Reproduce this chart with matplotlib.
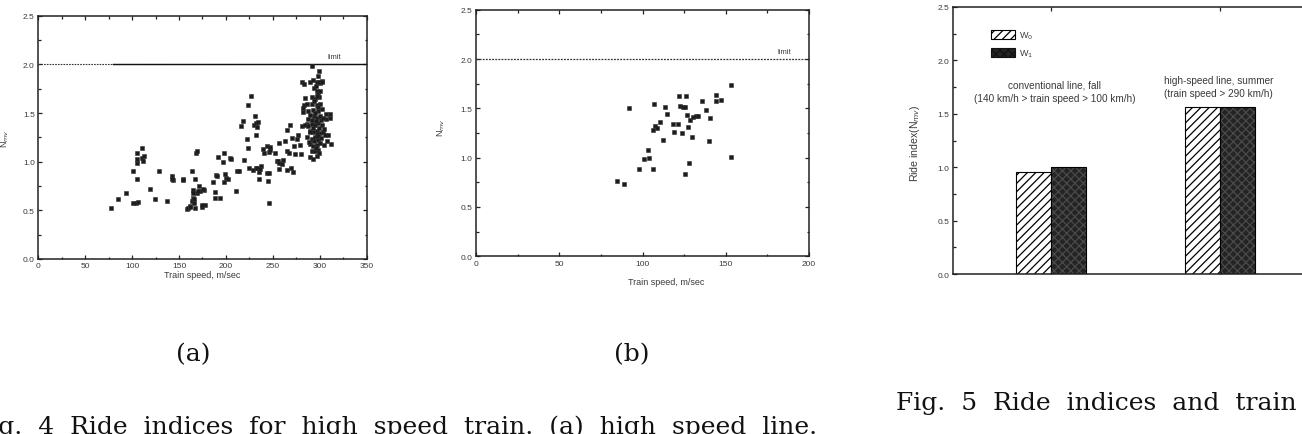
import matplotlib
matplotlib.use("Agg")
import matplotlib.pyplot as plt
from matplotlib.patches import Patch
from matplotlib.ticker import MultipleLocator

plt.rcParams["font.family"] = ["Liberation Sans", "DejaVu Sans"]
plt.rcParams["hatch.linewidth"] = 0.9

# ---- (a) high speed line: train speed vs ride index ----
speed_a = [
    77.5, 85, 94, 100.6, 101, 104, 106, 105, 105, 105.5, 105.5, 110, 111, 113, 112,
    119, 124, 129, 137.5, 142, 143.9, 143, 154, 154.6, 158, 160, 162, 163.5, 164,
    164.5, 165, 166, 167, 168, 169, 167, 169, 171, 172, 174.5, 176.5, 177.5, 161.7,
    175, 176, 170.6, 164.6, 166.4, 186.5, 188, 188, 189, 190, 192, 193.7, 196.5,
    198, 198, 199, 200, 202.5, 204, 205.5, 210.4, 211.5, 214, 216, 218, 219.6, 222,
    223, 224, 225, 227, 229, 230, 231, 231.5, 232, 234.5, 233.5, 232, 233.5, 235,
    235, 237, 236.4, 240, 241, 243.5, 243.5, 245, 245.5, 245.5, 246, 247, 247,
    252.5, 254, 255.9, 256, 257, 257, 259.5, 261, 263, 265, 265, 265.5, 267, 268,
    269, 270.5, 271, 272.5, 273.5, 275.5, 277, 279, 279.5, 281, 281, 283, 282.5,
    283, 284, 286, 287,
    # dense cluster near 300 km/h
    291.5, 299.6, 297.8, 289.7, 293, 296.8, 300.3, 302, 294.3, 296.8, 298.5, 291.5,
    295, 299.6, 286, 291.5, 296.8, 300.3, 282.5, 287.8, 293.2, 298.5, 302, 311,
    306.6, 284.3, 287.8, 291.5, 295, 298.5, 302, 289.7, 293.2, 296.8, 300.3, 303.8,
    286, 291.5, 295, 298.5, 309.2, 289.7, 293.2, 296.8, 300.3, 307.4, 291.5, 295,
    298.5, 289.7, 296.8, 293, 311, 312, 307, 305.5, 299.5, 302, 294, 297, 300, 292,
    295.5, 299, 301, 293, 297, 294, 298, 301, 296, 299, 295, 298, 293.5, 297, 300,
    295.5, 290, 303, 304, 305, 288, 290,
]
nmv_a = [
    0.52, 0.62, 0.68, 0.90, 0.575, 0.575, 0.59, 0.82, 1.09, 1.03, 0.99, 1.14, 1.04,
    1.06, 1.01, 0.72, 0.62, 0.90, 0.60, 0.85, 0.815, 0.82, 0.82, 0.815, 0.51, 0.52,
    0.54, 0.90, 0.60, 0.71, 0.68, 0.575, 0.82, 1.09, 1.11, 0.52, 0.68, 0.75, 0.70,
    0.53, 0.71, 0.55, 0.53, 0.55, 0.72, 0.70, 0.63, 0.62, 0.79, 0.69, 0.63, 0.86,
    0.85, 1.05, 0.63, 1.00, 1.09, 0.79, 0.87, 0.83, 0.82, 1.04, 1.03, 0.70, 0.90,
    0.90, 1.37, 1.42, 1.02, 1.23, 1.14, 1.58, 0.94, 1.67, 0.91, 1.38, 1.47, 1.27,
    1.40, 1.41, 1.36, 0.94, 0.93, 0.82, 0.89, 0.96, 0.925, 1.13, 1.09, 1.16, 0.88,
    0.80, 0.575, 0.88, 1.10, 1.12, 1.15, 1.09, 1.01, 1.01, 1.19, 0.99, 0.925, 0.98,
    1.02, 1.21, 1.11, 0.91, 1.33, 1.09, 1.38, 0.93, 1.24, 0.89, 1.16, 1.08, 1.23,
    1.27, 1.17, 1.08, 1.37, 1.82, 1.80, 1.51, 1.58, 1.65, 1.39, 1.44,
    # dense cluster near 300 km/h
    1.98, 1.93, 1.88, 1.82, 1.84, 1.82, 1.81, 1.83, 1.76, 1.73, 1.70, 1.66, 1.64,
    1.66, 1.59, 1.59, 1.58, 1.59, 1.55, 1.52, 1.53, 1.52, 1.54, 1.49, 1.44, 1.38,
    1.37, 1.39, 1.38, 1.40, 1.38, 1.32, 1.30, 1.32, 1.29, 1.31, 1.25, 1.23, 1.25,
    1.22, 1.27, 1.18, 1.16, 1.17, 1.19, 1.21, 1.11, 1.11, 1.12, 1.045, 1.06, 1.03,
    1.45, 1.18, 1.49, 1.27, 1.82, 1.82, 1.47, 1.45, 1.47, 1.43, 1.42, 1.35, 1.43,
    1.35, 1.28, 1.21, 1.26, 1.24, 1.14, 1.09, 1.50, 1.56, 1.62, 1.68, 1.73, 1.78,
    1.30, 1.45, 1.34, 1.17, 1.20, 1.48,
]

# ---- (b) conventional line ----
speed_b = [
    84.4, 88.8, 91.8, 97.6, 100.8, 104, 103.6, 106.8, 106.4, 107.6, 108.8, 110.4,
    106.4, 112.4, 113.6, 114.8, 118.4, 118.8, 121.2, 121.8, 122.8, 124.4, 125.6,
    123.6, 125.6, 126.4, 127, 127.6, 128.2, 128.4, 129.6, 130.4, 132, 133.2, 136,
    138.4, 140, 140.8, 144, 144, 147, 153, 153,
]
nmv_b = [
    0.76, 0.73, 1.50, 0.88, 0.99, 1.00, 1.08, 1.54, 1.28, 1.32, 1.30, 1.36, 0.89,
    1.18, 1.51, 1.44, 1.34, 1.26, 1.34, 1.63, 1.52, 1.51, 1.51, 1.25, 0.83, 1.63,
    1.43, 1.31, 0.95, 1.38, 1.21, 1.41, 1.42, 1.42, 1.57, 1.48, 1.17, 1.40, 1.64,
    1.57, 1.58, 1.74, 1.01,
]

# ---- Fig. 5 ride index bars ----
groups = ["conventional line, fall\n(140 km/h > train speed > 100 km/h)",
          "high-speed line, summer\n(train speed > 290 km/h)"]
w0_vals = [0.955, 1.56]
w1_vals = [1.005, 1.56]
limit = 2.0

W, H = 1302, 435
fig = plt.figure(figsize=(W / 100, H / 100), dpi=100)


def px_axes(x0, x1, ytop, ybot):
    return fig.add_axes([x0 / W, 1 - ybot / H, (x1 - x0) / W, (ybot - ytop) / H])


tick_kw = dict(direction="in", top=True, right=True, labelsize=6,
               labelcolor="#3a3a3a", width=0.9, color="#222222")
spine_c = "#222222"
grey_txt = "#3a3a3a"


def style(ax, xmaj, xmin):
    for s in ax.spines.values():
        s.set_linewidth(1.1)
        s.set_color(spine_c)
    ax.xaxis.set_major_locator(MultipleLocator(xmaj))
    ax.xaxis.set_minor_locator(MultipleLocator(xmin))
    ax.yaxis.set_major_locator(MultipleLocator(0.5))
    ax.yaxis.set_minor_locator(MultipleLocator(0.25))
    ax.tick_params(which="major", length=3, pad=2.5, **tick_kw)
    ax.tick_params(which="minor", length=1.8, **tick_kw)
    ax.yaxis.set_major_formatter(plt.FormatStrFormatter("%.1f"))


# panel (a)
axA = px_axes(38.3, 366.7, 16.7, 260)
axA.scatter(speed_a, nmv_a, s=9, marker="s", c="#1c1c1c", edgecolors="#333333",
            linewidths=0.4, zorder=3)
axA.axhline(limit, color="#333333", lw=0.8, ls=(0, (1.5, 1)))
axA.plot([80, 350], [limit, limit], color="#111111", lw=1.0)
axA.text(316, 2.08, "limit", fontsize=5.5, color=grey_txt, ha="center", va="center")
axA.set_xlim(0, 350)
axA.set_ylim(0, 2.5)
style(axA, 50, 25)
axA.set_xlabel("Train speed, m/sec", fontsize=6.5, color=grey_txt)
axA.xaxis.set_label_coords(0.5, -0.045)
axA.set_ylabel(r"N$_{mv}$", fontsize=6.5, color=grey_txt)
axA.yaxis.set_label_coords(-0.084, 0.5)

# panel (b)
axB = px_axes(476, 809, 10.7, 257.3)
axB.scatter(speed_b, nmv_b, s=9, marker="s", c="#1c1c1c", edgecolors="#333333",
            linewidths=0.4, zorder=3)
axB.axhline(limit, color="#333333", lw=0.9, ls=(0, (1.5, 1)))
axB.text(185, 2.08, "limit", fontsize=5.5, color=grey_txt, ha="center", va="center")
axB.set_xlim(0, 200)
axB.set_ylim(0, 2.5)
style(axB, 50, 25)
axB.set_xlabel("Train speed, m/sec", fontsize=6.5, color=grey_txt)
axB.xaxis.set_label_coords(0.57, -0.085)
axB.set_ylabel(r"N$_{mv}$", fontsize=6.5, color=grey_txt)
axB.yaxis.set_label_coords(-0.088, 0.524)

# Fig. 5 bar chart
axC = px_axes(952.7, 1318.3, 8, 275)
pos = [0, 1]
bw = 0.205
axC.bar([p - bw / 2 for p in pos], w0_vals, bw, color="white", edgecolor="black",
        hatch="////", lw=0.8)
axC.bar([p + bw / 2 for p in pos], w1_vals, bw, color="#242424", edgecolor="#4a4a4a",
        hatch="xxxx", lw=0)
axC.bar([p + bw / 2 for p in pos], w1_vals, bw, fill=False, edgecolor="black", lw=0.8)
axC.text(0.02, 1.71, groups[0], fontsize=7.2, color=grey_txt, ha="center",
         va="center", linespacing=1.4)
axC.text(0.99, 1.755, groups[1], fontsize=7.2, color=grey_txt, ha="center",
         va="center", linespacing=1.4)
axC.set_xlim(-0.582, 1.582)
axC.set_ylim(0, 2.5)
for s in axC.spines.values():
    s.set_linewidth(1.1)
    s.set_color(spine_c)
axC.yaxis.set_major_locator(MultipleLocator(0.5))
axC.yaxis.set_minor_locator(MultipleLocator(0.25))
axC.yaxis.set_major_formatter(plt.FormatStrFormatter("%.1f"))
axC.set_xticks(pos)
axC.set_xticklabels([])
axC.tick_params(which="major", length=3, pad=2.5, **tick_kw)
axC.tick_params(which="minor", length=1.8, **tick_kw)
axC.tick_params(axis="x", which="minor", bottom=False, top=False)
axC.set_ylabel(r"Ride index(N$_{mv}$)", fontsize=7.6, color=grey_txt)
axC.yaxis.set_label_coords(-0.084, 0.494)
handles = [
    Patch(facecolor="white", edgecolor="black", hatch="////", lw=0.8, label=r"W$_0$"),
    Patch(facecolor="#242424", edgecolor="#111111", hatch="xxxx", lw=0.8, label=r"W$_1$"),
]
axC.legend(handles=handles, loc="upper left", bbox_to_anchor=(0.105, 0.915),
           frameon=False, fontsize=6.5, handlelength=2.6, handleheight=1.2,
           labelspacing=0.7, handletextpad=0.5, borderpad=0, borderaxespad=0,
           labelcolor=grey_txt)

# captions: serif, loosely set as on the printed page (two spaces between words)
cap_kw = dict(family=["DejaVu Serif"], fontsize=18, color="#111111")
fig.text(193 / W, 1 - 355 / H, "(a)", ha="center", va="center", **cap_kw)
fig.text(632 / W, 1 - 355 / H, "(b)", ha="center", va="center", **cap_kw)
fig.text(-27 / W, 1 - 415 / H,
         "Fig.  4  Ride  indices  for  high  speed  train.  (a)  high  speed  line.",
         ha="left", va="top", **cap_kw)
fig.text(896 / W, 1 - 404 / H, "Fig.  5  Ride  indices  and  train  speed",
         ha="left", va="center", **cap_kw)

fig.savefig("out.png", dpi=100)
